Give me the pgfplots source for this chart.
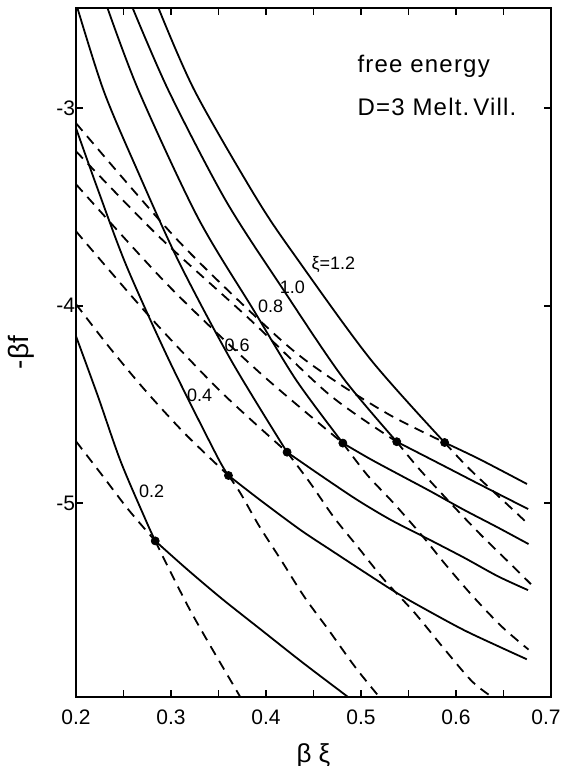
\documentclass[border=0pt]{standalone}
\usepackage{fontspec}
\setmainfont{Liberation Sans}
\newfontfamily\widefont[LetterSpace=5]{Liberation Sans}
\usepackage{pgfplots}
\pgfplotsset{compat=1.18}
\newcommand\lab{\fontsize{9}{10.5}\selectfont}
\begin{document}
\begin{tikzpicture}
\begin{axis}[
  at={(0,0)}, anchor=south west,
  scale only axis, width=237.5pt, height=344.5pt,
  xmin=0.2, xmax=0.7, ymin=-5.98, ymax=-2.493,
  axis line style={line width=1.2pt},
  xtick={0.2,0.3,0.4,0.5,0.6,0.7},
  xticklabels={0.2,0.3,0.4,0.5,0.6,\hspace*{-5pt}0.7},
  minor xtick={0.25,0.35,0.45,0.55,0.65},
  ytick={-5,-4,-3},
  yticklabels={-5,-4,-3},
  tick align=inside,
  major tick length=3.5pt, minor tick length=3.5pt,
  tick style={line width=0.9pt, black},
  ticklabel style={font=\fontsize{10.5}{12}\selectfont},
  xticklabel style={yshift=-3pt},
  yticklabel style={xshift=3pt},
  xlabel={β ξ}, ylabel={-βf},
  xlabel style={at={(axis description cs:0.5,-0.085)}, anchor=center, font=\fontsize{13}{15}\selectfont},
  ylabel style={at={(axis description cs:-0.115,0.5)}, anchor=center, font=\fontsize{14}{16}\selectfont},
  clip=true,
  sol/.style={black, line width=0.9pt, smooth},
  das/.style={black, line width=0.9pt, smooth, dash pattern=on 5pt off 3.5pt},
]
% xi = 0.2
\addplot[sol] coordinates {(0.2,-4.154) (0.2231,-4.458) (0.2469,-4.786) (0.2738,-5.089) (0.2834,-5.190)};
\addplot[das] coordinates {(0.2834,-5.190) (0.2974,-5.327) (0.3188,-5.529) (0.3402,-5.711) (0.3648,-5.913) (0.3733,-5.983)};
\addplot[das] coordinates {(0.2,-4.686) (0.226,-4.848) (0.2547,-5.029) (0.2834,-5.190)};
\addplot[sol] coordinates {(0.2834,-5.190) (0.3163,-5.331) (0.3534,-5.482) (0.3957,-5.643) (0.4381,-5.804) (0.4836,-5.970) (0.49,-5.993)};
% xi = 0.4
\addplot[sol] coordinates {(0.2,-3.101) (0.2229,-3.410) (0.2532,-3.799) (0.2983,-4.279) (0.3480,-4.757) (0.3605,-4.859)};
\addplot[das] coordinates {(0.3605,-4.859) (0.3733,-4.950) (0.3925,-5.112) (0.416,-5.288) (0.4406,-5.475) (0.4661,-5.642) (0.4938,-5.828) (0.5193,-5.980)};
\addplot[das] coordinates {(0.2,-3.992) (0.2351,-4.21) (0.2723,-4.425) (0.3148,-4.648) (0.3605,-4.859)};
\addplot[sol] coordinates {(0.3605,-4.859) (0.3943,-4.985) (0.4367,-5.136) (0.4684,-5.237) (0.5033,-5.347) (0.5393,-5.458) (0.5742,-5.553) (0.609,-5.643) (0.6449,-5.724) (0.6745,-5.789)};
% xi = 0.6
\addplot[sol] coordinates {(0.2007,-2.48) (0.2292,-2.913) (0.2648,-3.317) (0.3077,-3.772) (0.3634,-4.277) (0.4222,-4.741)};
\addplot[das] coordinates {(0.4222,-4.741) (0.4467,-4.898) (0.4712,-5.069) (0.4967,-5.221) (0.5244,-5.387) (0.5563,-5.553) (0.5882,-5.740) (0.6169,-5.901) (0.638,-5.98)};
\addplot[das] coordinates {(0.2,-3.623) (0.2768,-4.051) (0.3512,-4.429) (0.4222,-4.741)};
\addplot[sol] coordinates {(0.4222,-4.741) (0.4571,-4.857) (0.4962,-4.983) (0.5311,-5.083) (0.5681,-5.174) (0.6082,-5.274) (0.6441,-5.369) (0.6758,-5.439)};
% xi = 0.8
\addplot[sol] coordinates {(0.2322,-2.48) (0.266,-2.912) (0.3283,-3.554) (0.3871,-4.023) (0.4319,-4.377) (0.4809,-4.695)};
\addplot[das] coordinates {(0.4809,-4.695) (0.5065,-4.856) (0.534,-4.997) (0.566,-5.173) (0.5873,-5.300) (0.616,-5.461) (0.6478,-5.622) (0.6764,-5.74)};
\addplot[das] coordinates {(0.2,-3.385) (0.2975,-3.899) (0.393,-4.337) (0.4809,-4.695)};
\addplot[sol] coordinates {(0.4809,-4.695) (0.5095,-4.775) (0.5412,-4.857) (0.5728,-4.938) (0.6077,-5.031) (0.6436,-5.121) (0.6764,-5.206)};
% xi = 1.0
\addplot[sol] coordinates {(0.2585,-2.48) (0.2975,-2.912) (0.3576,-3.467) (0.4184,-3.920) (0.4803,-4.360) (0.5376,-4.688)};
\addplot[das] coordinates {(0.5376,-4.688) (0.56,-4.819) (0.5887,-4.970) (0.6226,-5.142) (0.6545,-5.293) (0.6789,-5.409)};
\addplot[das] coordinates {(0.2,-3.218) (0.2865,-3.646) (0.3819,-4.064) (0.4667,-4.45) (0.5376,-4.688)};
\addplot[sol] coordinates {(0.5376,-4.688) (0.583,-4.80) (0.6253,-4.905) (0.676,-5.029)};
% xi = 1.2
\addplot[sol] coordinates {(0.2857,-2.48) (0.3248,-2.911) (0.3912,-3.466) (0.4338,-3.769) (0.5105,-4.274) (0.588,-4.692)};
\addplot[das] coordinates {(0.588,-4.692) (0.6146,-4.828) (0.657,-5.019) (0.6761,-5.105)};
\addplot[das] coordinates {(0.2,-3.076) (0.3076,-3.671) (0.4136,-4.164) (0.4666,-4.361) (0.53,-4.552) (0.588,-4.692)};
\addplot[sol] coordinates {(0.588,-4.692) (0.625,-4.777) (0.6747,-4.902)};
% transition points
\addplot[only marks, mark=*, mark size=2pt, black] coordinates {(0.2834,-5.190) (0.3605,-4.859) (0.4222,-4.741) (0.4809,-4.695) (0.5376,-4.688) (0.588,-4.692)};
% labels
\node[anchor=west, font=\lab, inner sep=0pt] at (axis cs:0.4475,-3.793) {ξ=1.2};
\node[font=\lab, inner sep=0pt] at (axis cs:0.4278,-3.906) {1.0};
\node[font=\lab, inner sep=0pt] at (axis cs:0.4049,-4.003) {0.8};
\node[font=\lab, inner sep=0pt] at (axis cs:0.3695,-4.201) {0.6};
\node[font=\lab, inner sep=0pt] at (axis cs:0.3302,-4.455) {0.4};
\node[font=\lab, inner sep=0pt] at (axis cs:0.2797,-4.937) {0.2};
\node[anchor=west, inner sep=0pt, font=\widefont\fontsize{12}{14}\selectfont] at (axis cs:0.496,-2.788) {free energy};
\node[anchor=west, inner sep=0pt, font=\widefont\fontsize{12}{14}\selectfont] at (axis cs:0.496,-2.996) {D=3 Melt.\,Vill.};
\end{axis}
\pgfresetboundingbox
\path[use as bounding box] (-38pt,-34.5pt) rectangle (242.5pt,348.5pt);
\end{tikzpicture}
\end{document}
